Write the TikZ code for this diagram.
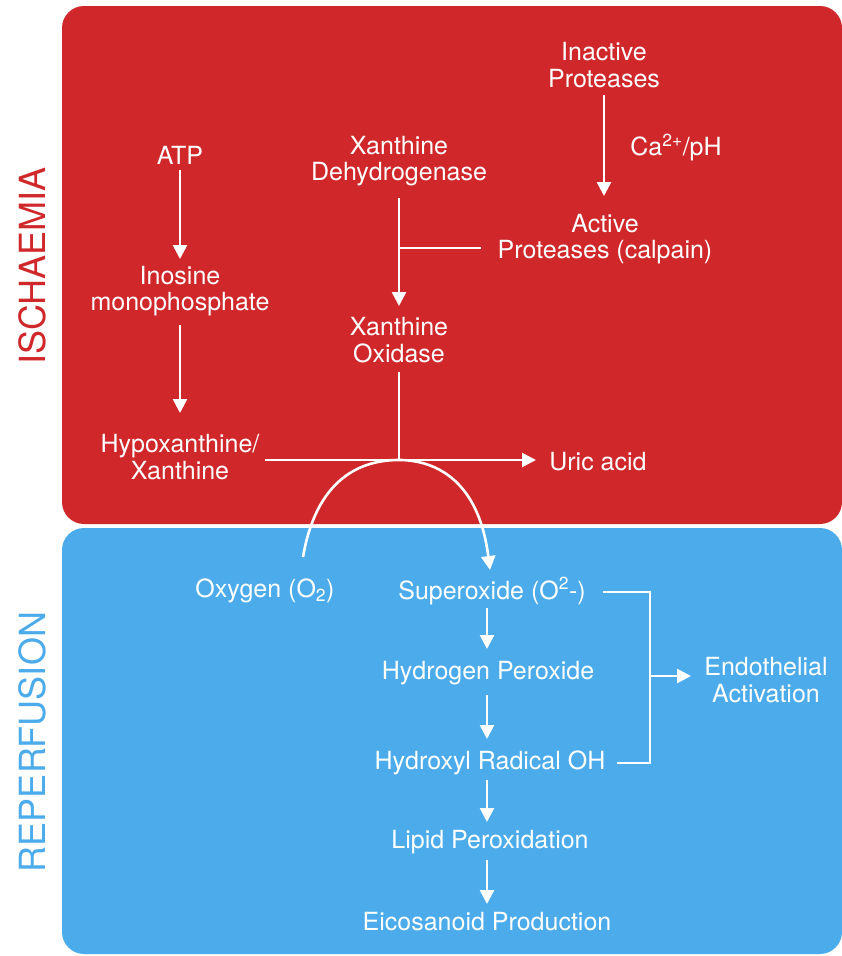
\documentclass[tikz,border=0pt]{standalone}
\usepackage{fontspec}
\setmainfont{TeX Gyre Heros}
\usetikzlibrary{arrows.meta}
\definecolor{isred}{HTML}{D0282A}
\definecolor{repblue}{HTML}{4BABEB}
\begin{document}
\begin{tikzpicture}[x=1pt,y=-1pt,
  lbl/.style={text=white,font=\fontsize{25}{26.5}\selectfont,align=center,inner sep=1pt},
  flow/.style={draw=white,line width=2.6pt,-{Triangle[width=14pt,length=14pt]}},
  plain/.style={draw=white,line width=2.6pt},
  panel/.style={rounded corners=22pt}]
\useasboundingbox (0,0) rectangle (842,956);
\fill[isred,panel] (62,6) rectangle (842,524);
\fill[repblue,panel] (62,528) rectangle (842,954);
\node[rotate=90,text=isred,font=\fontsize{36}{40}\selectfont] (isch) at (32,266) {ISCHAEMIA};
\node[rotate=90,text=repblue,font=\fontsize{36}{40}\selectfont] (repf) at (32,742) {REPERFUSION};
% ischaemia nodes
\node[lbl] (inact) at (604,65) {Inactive\\Proteases};
\node[lbl] (act) at (605,239) {Active\\Proteases (calpain)};
\node[lbl] (capH) at (676,148) {Ca\textsuperscript{2+}/pH};
\node[lbl] (xdh) at (399,161) {Xanthine\\Dehydrogenase};
\node[lbl] (xo) at (399,340) {Xanthine\\Oxidase};
\node[lbl] (atp) at (180,155) {ATP};
\node[lbl] (imp) at (180,291) {Inosine\\monophosphate};
\node[lbl] (hx) at (180,457) {Hypoxanthine/\\Xanthine};
\node[lbl] (uric) at (598,462) {Uric acid};
\coordinate (junc) at (399,460);
\coordinate (tee) at (399,248);
\coordinate (teeEnd) at (481,248);
% reperfusion nodes
\node[lbl] (oxy) at (265,591) {Oxygen (O\textsubscript{2})};
\node[lbl] (sup) at (492,591) {Superoxide (O\textsuperscript{2}-)};
\node[lbl] (hp) at (488,673) {Hydrogen Peroxide};
\node[lbl] (hr) at (490,763) {Hydroxyl Radical OH};
\node[lbl] (lp) at (490,842) {Lipid Peroxidation};
\node[lbl] (eic) at (487,922) {Eicosanoid Production};
\node[lbl] (endo) at (766,680) {Endothelial\\Activation};
\coordinate (bt) at (650,592);
\coordinate (bb) at (650,763);
\coordinate (bm) at (650,676);
% connectors
\draw[flow] (604,95) -- (604,196);
\draw[flow] (180,170) -- (180,259);
\draw[flow] (180,325) -- (180,413);
\draw[flow] (399,198) -- (399,306);
\draw[plain] (tee) -- (teeEnd);
\draw[plain] (399,372) -- (junc);
\draw[flow] (265,460) -- (536,460);
\draw[flow] (303,557) .. controls (318,470) and (370,460) .. (399,460) .. controls (430,460) and (478,475) .. (490,570);
\draw[flow] (487,608) -- (487,649);
\draw[flow] (487,695) -- (487,739);
\draw[flow] (487,780) -- (487,822);
\draw[flow] (487,860) -- (487,904);
\draw[plain,line join=miter] (603,592) -- (bt) -- (bb) -- (617,763);
\draw[flow] (bm) -- (691,676);
\end{tikzpicture}
\end{document}
